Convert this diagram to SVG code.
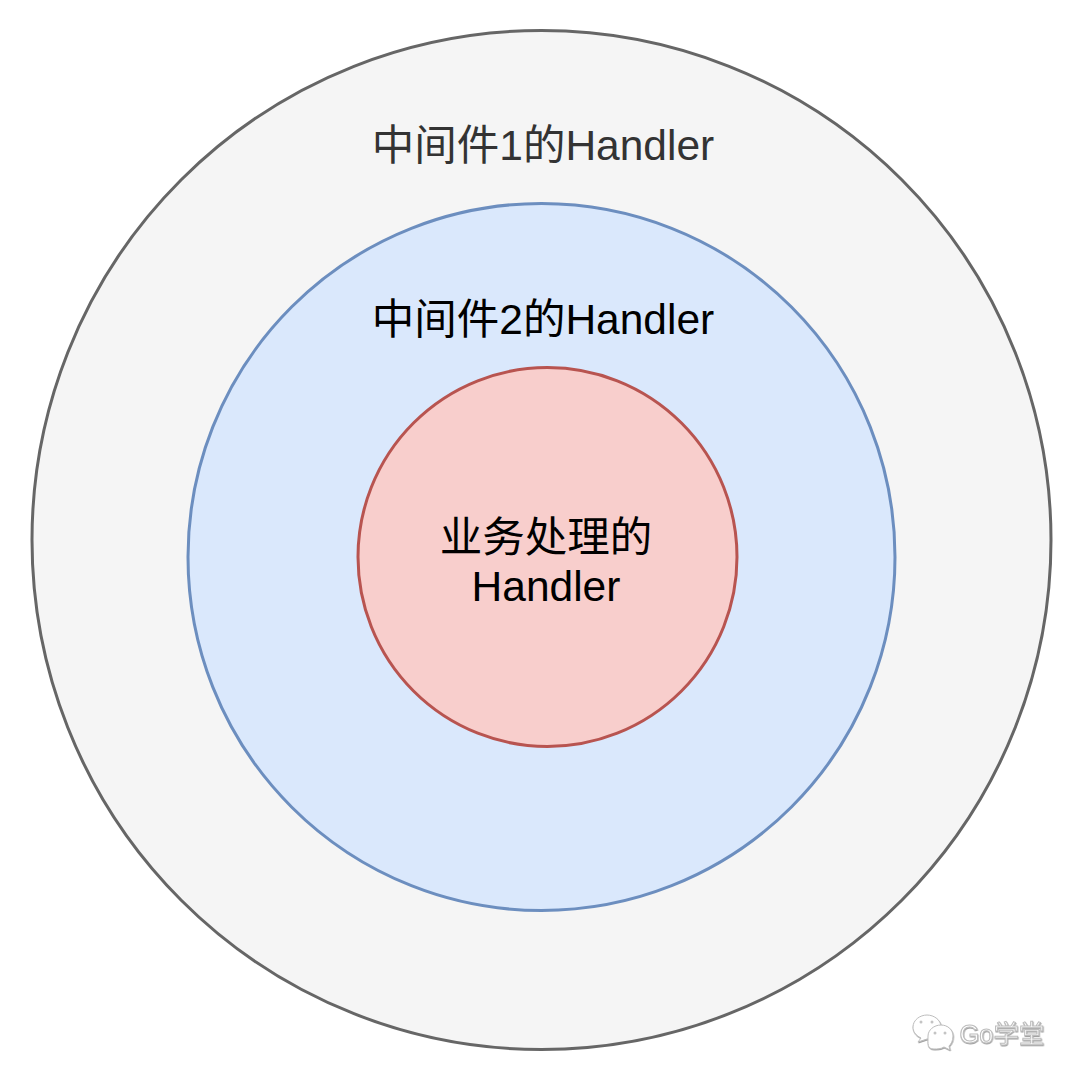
<svg xmlns="http://www.w3.org/2000/svg" width="1080" height="1080" viewBox="0 0 1080 1080">
<style>
text{font-family:"Liberation Sans","Noto Sans CJK SC",sans-serif;font-size:42.5px;text-anchor:middle}
circle{stroke-width:3}
.wm{fill:#fff;stroke:#bdbdbd;stroke-width:1}
.eye{fill:#c4c4c4;stroke:none}
</style>
<defs><filter id="emboss" x="-10%" y="-10%" width="120%" height="120%"><feDropShadow dx="0.500" dy="1" stdDeviation="0.500" flood-color="#8a8a8a" flood-opacity="0.800"/></filter></defs>
<rect width="1080" height="1080" fill="#fff"/>
<g id="outer"><circle cx="541.500" cy="540" r="509.500" fill="#f5f5f5" stroke="#666"/><text x="543" y="160" fill="#333">中间件1的Handler</text></g>
<g id="middle"><circle cx="541.500" cy="557" r="353.500" fill="#dae8fc" stroke="#6c8ebf"/><text x="543" y="334" fill="#000">中间件2的Handler</text></g>
<g id="inner"><circle cx="547.500" cy="557" r="189.500" fill="#f8cecc" stroke="#b85450"/><text x="546" y="552" fill="#000">业务处理的</text><text x="546" y="601" fill="#000">Handler</text></g>
<g id="watermark" filter="url(#emboss)">
<path class="wm" d="M921 1038 C915 1035 913 1031 913 1027 C913 1020 920 1015 927 1015 C934 1015 941 1020 941 1027 C941 1034 934 1039 927 1039 L918 1042 Z"/>
<path class="wm" d="M944 1047 C941 1049 937 1049 934 1049 C927 1049 928 1044 928 1036 C928 1030 934 1025 941 1025 C948 1025 953 1030 953 1036 C953 1041 951 1044 949 1046 L950 1050 Z"/>
<circle class="eye" cx="921" cy="1022" r="1.500"/><circle class="eye" cx="932" cy="1022" r="1.500"/><circle class="eye" cx="935" cy="1033" r="1.500"/><circle class="eye" cx="945" cy="1033" r="1.500"/>
<text x="1002" y="1043" class="wm" style="font-size:25.500px">Go学堂</text></g>
</svg>
